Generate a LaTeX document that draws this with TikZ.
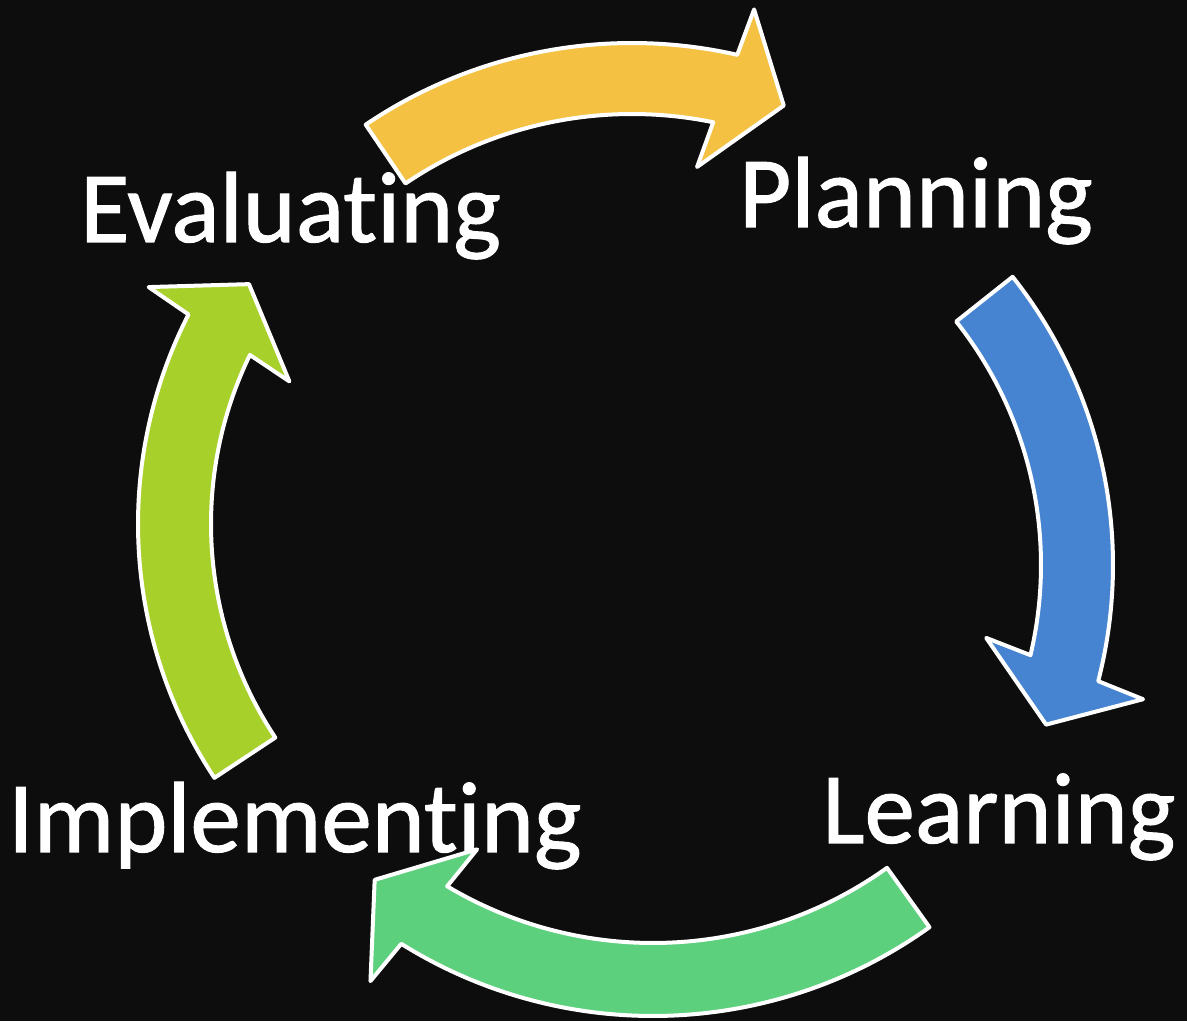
\documentclass[tikz,border=0pt]{standalone}
\usepackage{fontspec}
\setmainfont{Carlito}[Ligatures=NoCommon, FakeBold=1]
\usepackage{tikz}

\definecolor{bg}{HTML}{0D0D0D}
\definecolor{planyellow}{HTML}{F4C142}
\definecolor{learnblue}{HTML}{4684D2}
\definecolor{evallime}{HTML}{A8D02A}
\definecolor{implgreen}{HTML}{5CD07C}

% centre, inner radius, outer radius, tail angle, head angle, colour
\newcommand{\cyclearrow}[6]{%
  \filldraw[cycarrow, fill=#6]
    ([shift={(#1)}]{#4}:{#3}) arc[start angle=#4, end angle={#5-2.3}, radius=#3]
    -- ([shift={(#1)}]{#5-3}:{#3+48})
    -- ([shift={(#1)}]{#5-9.7}:{(#2+#3)/2})
    -- ([shift={(#1)}]{#5}:{#2-47})
    -- ([shift={(#1)}]{#5-1.1}:{#2})
    arc[start angle={#5-1.1}, end angle=#4, radius=#2]
    -- cycle;}

\begin{document}
\begin{tikzpicture}[x=1pt, y=1pt,
  cycarrow/.style = {draw=white, line width=4pt, line join=round},
  phase/.style = {text=white, inner sep=0pt, anchor=base west, font=\fontsize{101}{120}\selectfont}]
	\useasboundingbox (0,0) rectangle (1187,1021);
	\fill[bg] (0,0) rectangle (1187,1021);
	\coordinate (cplan) at (632,503);
	\coordinate (clearn) at (649,456);
	\coordinate (cimpl) at (653,480);
	\coordinate (ceval) at (598,497);
	\cyclearrow{cplan}{404}{475}{124.1}{79.5}{planyellow}
	\cyclearrow{clearn}{392}{464}{38.4}{-12.2}{learnblue}
	\cyclearrow{cimpl}{402}{475}{-54.4}{-119.7}{implgreen}
	\cyclearrow{ceval}{387}{460}{213.5}{155.2}{evallime}
	\node[phase] (eval) at (80,779) {Evaluating};
	\node[phase] (plan) at (739,794) {Planning};
	\node[phase] (impl) at (8,169) {Implementing};
	\node[phase] (learn) at (822,178) {Learning};
\end{tikzpicture}
\end{document}
